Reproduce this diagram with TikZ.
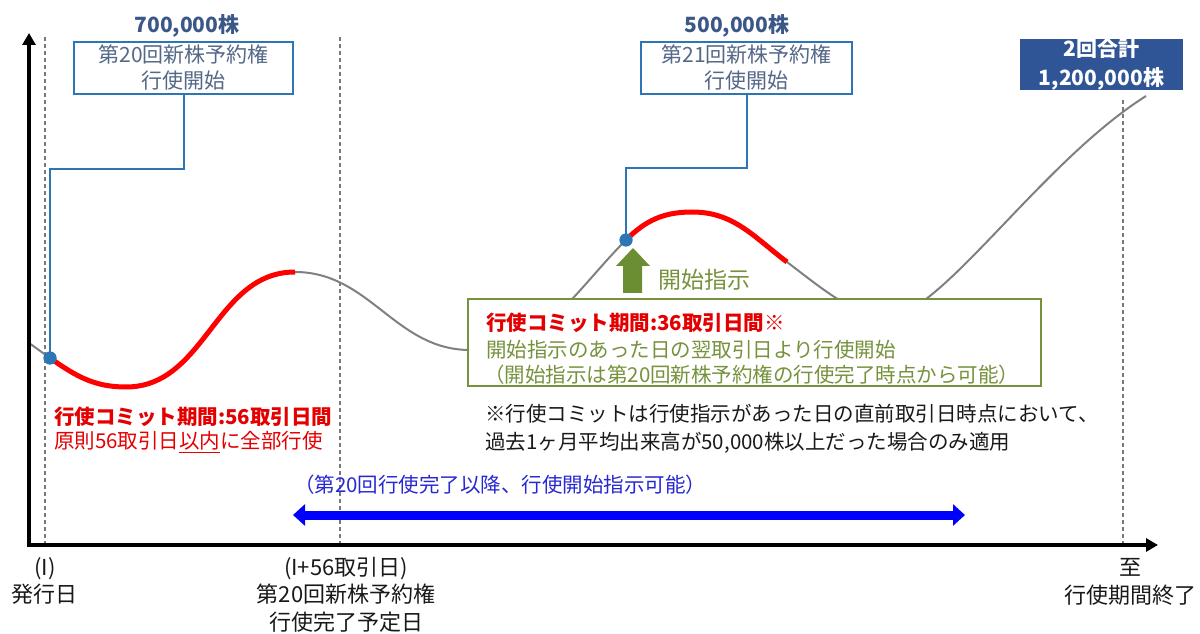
\documentclass[tikz,border=0pt]{standalone}
\usepackage{fontspec}
\setmainfont{Noto Sans CJK JP}
\usetikzlibrary{arrows.meta}
\definecolor{boxblue}{RGB}{46,117,182}
\definecolor{boxtext}{RGB}{84,104,135}
\definecolor{numblue}{RGB}{59,87,135}
\definecolor{darkbox}{RGB}{47,85,151}
\definecolor{olive}{RGB}{118,146,60}
\definecolor{arrowgreen}{RGB}{108,142,50}
\definecolor{curvegray}{RGB}{128,128,128}
\definecolor{dashgray}{RGB}{120,120,120}
\definecolor{textred}{RGB}{228,0,0}
\definecolor{textblue}{RGB}{40,40,210}
\definecolor{notetext}{RGB}{25,25,25}
\begin{document}
\begin{tikzpicture}[x=1pt,y=1pt,
  vdash/.style={draw=dashgray,line width=1.3pt,dash pattern=on 4pt off 3pt},
  graycurve/.style={draw=curvegray,line width=2pt},
  redcurve/.style={draw=red,line width=5pt},
  dotnode/.style={circle,fill=boxblue,minimum size=13pt,inner sep=0pt},
  conn/.style={draw=boxblue,line width=2pt},
  topbox/.style={draw=boxblue,line width=1.8pt,fill=white,minimum height=52pt,
    text=boxtext,align=center,inner sep=0pt,font=\fontsize{21}{26}\selectfont},
  topnum/.style={text=numblue,inner sep=0pt,font=\fontsize{21}{25}\selectfont\bfseries},
  sumbox/.style={fill=darkbox,minimum width=163pt,minimum height=51pt,text=white,
    align=center,inner sep=0pt,font=\fontsize{21}{29}\selectfont\bfseries},
  greenbox/.style={draw=olive,line width=2pt,fill=white,minimum width=573pt,minimum height=87pt,inner sep=0pt},
  lefttext/.style={anchor=west,inner sep=0pt,font=\fontsize{20.5}{24}\selectfont},
  botlabel/.style={align=center,inner sep=0pt,text=notetext,font=\fontsize{22}{27.5}\selectfont},
  axis/.style={draw=black,line width=3.5pt,line join=miter,
    {Triangle[length=12pt,width=13pt]}-{Triangle[length=12pt,width=13pt]}},
  bluearrow/.style={draw=blue,line width=9pt,
    {Triangle[length=12pt,width=21pt]}-{Triangle[length=12pt,width=21pt]}}
]
\useasboundingbox (0,0) rectangle (1200,633);

% dashed vertical guides
\draw[vdash] (45,88) -- (45,598);
\draw[vdash] (340,88) -- (340,598);
\draw[vdash] (1123,88) -- (1123,536);

% curve
\draw[graycurve] (29,290) to[out=-35,in=145] (50,275) to[out=-35,in=180] (126,246)
  to[out=0,in=180] (295,361) to[out=0,in=180] (470,283) to[out=0,in=-135] (626,393)
  to[out=45,in=180] (692,421) to[out=0,in=143] (787,371)
  .. controls (820,346) and (855,316) .. (887,316)
  .. controls (940,316) and (1040,470) .. (1146,537);
\draw[redcurve] (50,275) to[out=-35,in=180] (126,246) to[out=0,in=180] (295,361);
\draw[redcurve] (626,393) to[out=45,in=180] (692,421) to[out=0,in=143] (787,371);

% top boxes
\node[topbox,minimum width=219pt] (box1) at (183.5,565) {第20回新株予約権\\行使開始};
\node[topnum] (num1) at (187,607) {700,000株};
\node[topbox,minimum width=211pt] (box2) at (746.5,565) {第21回新株予約権\\行使開始};
\node[topnum] (num2) at (737,607) {500,000株};
\node[sumbox] (sum) at (1101.5,568.5) {2回合計\\1,200,000株};

% dots and connectors
\node[dotnode] (dot1) at (50,275) {};
\node[dotnode] (dot2) at (626,393) {};
\draw[conn] (box1.south) -- ++(0,-74) -| (dot1.center);
\draw[conn] (box2.south) -- ++(0,-73) -| (dot2.center);
\node[dotnode] at (dot1) {};
\node[dotnode] at (dot2) {};

% green box
\node[greenbox] (gbox) at (754.5,290.5) {};
\node[lefttext,text=textred,font=\fontsize{20.5}{24}\selectfont\bfseries] (g1) at (486,310) {行使コミット期間:36取引日間※};
\node[lefttext,text=olive] (g2) at (486,283) {開始指示のあった日の翌取引日より行使開始};
\node[lefttext,text=olive] (g3) at (484,258) {（開始指示は第20回新株予約権の行使完了時点から可能）};

% green arrow
\fill[arrowgreen] (623,340) -- (623,367) -- (616,367) -- (633,385) -- (650,367) -- (642,367) -- (642,340) -- cycle;
\node[lefttext,text=olive,font=\fontsize{23}{27}\selectfont] (start) at (658,353) {開始指示};

% notes
\node[lefttext,text=notetext] (n1) at (485,219) {※行使コミットは行使指示があった日の直前取引日時点において、};
\node[lefttext,text=notetext] (n2) at (485,190) {過去1ヶ月平均出来高が50,000株以上だった場合のみ適用};

\node[lefttext,text=textred,font=\fontsize{20.5}{24}\selectfont\bfseries] (r1) at (54,216) {行使コミット期間:56取引日間};
\node[lefttext,text=textred] (r2) at (54,191) {原則56取引日\underline{以内}に全部行使};

% blue range
\node[lefttext,text=textblue] (btext) at (294,148) {（第20回行使完了以降、行使開始指示可能）};
\coordinate (bl) at (293,118);
\coordinate (br) at (965,118);
\draw[bluearrow] (bl) -- (br);

% axes
\coordinate (ytop) at (29,600);
\coordinate (orig) at (29,88);
\coordinate (xend) at (1158,88);
\draw[axis] (ytop) -- (orig) -- (xend);

% bottom labels
\node[botlabel] (l1) at (45,52) {(I)\\発行日};
\node[botlabel] (l2) at (346,38.5) {(I+56取引日)\\第20回新株予約権\\行使完了予定日};
\node[botlabel] (l3) at (1130,51) {至\\行使期間終了};
\end{tikzpicture}
\end{document}
